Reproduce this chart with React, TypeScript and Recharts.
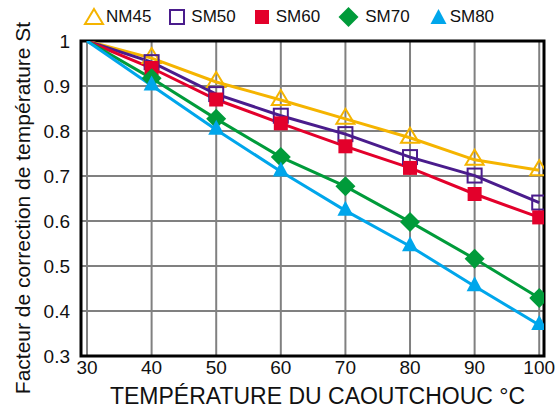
import React from "react"
import {
	LineChart,
	Line,
	XAxis,
	YAxis,
	CartesianGrid,
	ReferenceArea,
} from "recharts"

const temps = [30, 40, 50, 60, 70, 80, 90, 100]
const nm45 = [1, 0.962, 0.909, 0.869, 0.827, 0.785, 0.736, 0.713]
const sm50 = [1, 0.953, 0.882, 0.834, 0.793, 0.742, 0.701, 0.641]
const sm60 = [1, 0.94, 0.87, 0.817, 0.766, 0.718, 0.66, 0.608]
const sm70 = [1, 0.917, 0.827, 0.742, 0.677, 0.598, 0.516, 0.429]
const sm80 = [1, 0.901, 0.803, 0.71, 0.623, 0.544, 0.455, 0.369]

const xTicks = [30, 40, 50, 60, 70, 80, 90, 100]
const yTicks = [0.3, 0.4, 0.5, 0.6, 0.7, 0.8, 0.9, 1]

const FONT = "'Liberation Sans', Arial, sans-serif"

const data = temps.map((t, i) => ({
	temp: t,
	NM45: nm45[i],
	SM50: sm50[i],
	SM60: sm60[i],
	SM70: sm70[i],
	SM80: sm80[i],
}))

type Kind = "triOpen" | "squareOpen" | "square" | "diamond" | "tri"

const series: { key: string; color: string; kind: Kind }[] = [
	{ key: "NM45", color: "#F5B400", kind: "triOpen" },
	{ key: "SM50", color: "#4A1C8C", kind: "squareOpen" },
	{ key: "SM60", color: "#E3002B", kind: "square" },
	{ key: "SM70", color: "#009B3A", kind: "diamond" },
	{ key: "SM80", color: "#00A6EB", kind: "tri" },
]

const Marker = ({ kind, color, cx, cy }: { kind: Kind; color: string; cx: number; cy: number }) => {
	switch (kind) {
		case "triOpen":
			return (
				<path
					d={`M${cx},${cy - 10} L${cx + 9},${cy + 5} L${cx - 9},${cy + 5} Z`}
					fill="none"
					stroke={color}
					strokeWidth={2}
				/>
			)
		case "tri":
			return (
				<path
					d={`M${cx},${cy - 10} L${cx + 8},${cy + 5} L${cx - 8},${cy + 5} Z`}
					fill={color}
				/>
			)
		case "squareOpen":
			return (
				<rect x={cx - 7} y={cy - 7} width={14} height={14} fill="none" stroke={color} strokeWidth={2} />
			)
		case "square":
			return <rect x={cx - 7} y={cy - 7} width={14} height={14} fill={color} />
		case "diamond":
			return (
				<path
					d={`M${cx},${cy - 10} L${cx + 10},${cy} L${cx},${cy + 10} L${cx - 10},${cy} Z`}
					fill={color}
				/>
			)
	}
}

const makeDot = (kind: Kind, color: string) => (props: any) => {
	const { cx, cy, payload, index } = props
	if (payload.temp === 30 || cx == null) return <g key={index} />
	return <Marker key={index} kind={kind} color={color} cx={cx} cy={cy} />
}

const LegendIcon = ({ kind, color }: { kind: Kind; color: string }) => {
	const w = kind === "triOpen" ? 24 : kind === "diamond" ? 23 : kind === "tri" ? 23 : 18
	return (
		<svg width={w} height={24} style={{ display: "block" }}>
			<Marker kind={kind} color={color} cx={w / 2} cy={kind === "triOpen" || kind === "tri" ? 14 : 12} />
		</svg>
	)
}

export default function App() {
	return (
		<div style={{ position: "absolute", left: 0, top: 0, width: 558, height: 411, background: "#fff", fontFamily: FONT }}>
			<div
				style={{
					position: "absolute",
					left: 82,
					top: 5,
					display: "flex",
					alignItems: "center",
					gap: 17,
					fontSize: 17,
					color: "#111",
				}}
			>
				{series.map((s) => (
					<div key={s.key} style={{ display: "flex", alignItems: "center", gap: s.kind === "triOpen" || s.kind === "tri" ? 0 : 5 }}>
						<LegendIcon kind={s.kind} color={s.color} />
						<span>{s.key}</span>
					</div>
				))}
			</div>
			<LineChart
				width={558}
				height={411}
				data={data}
				margin={{ top: 41, right: 14, bottom: 25, left: 21 }}
				style={{ fontFamily: FONT }}
			>
				<CartesianGrid stroke="#808080" strokeWidth={2} />
				<XAxis
					type="number"
					dataKey="temp"
					domain={[29.07, 100.74]}
					ticks={xTicks}
					allowDataOverflow
					axisLine={false}
					tickLine={false}
					tickSize={0}
					tickMargin={5}
					height={30}
					tick={{ fontSize: 19, fill: "#111" }}
					label={(p: any) => {
						const vb = p.viewBox
						return (
							<text
								x={vb.x + vb.width / 2 + 5}
								y={404}
								textAnchor="middle"
								fontSize={23}
								fill="#111"
							>
								TEMPÉRATURE DU CAOUTCHOUC °C
							</text>
						)
					}}
				/>
				<YAxis
					type="number"
					domain={[0.3, 1]}
					ticks={yTicks}
					allowDataOverflow
					axisLine={false}
					tickLine={false}
					tickSize={0}
					tickMargin={11}
					width={60}
					tick={{ fontSize: 19, fill: "#111" }}
					tickFormatter={(v: number) => String(v)}
					label={() => (
						<text
							x={30}
							y={208}
							transform="rotate(-90 30 208)"
							textAnchor="middle"
							fontSize={21}
							fill="#111"
						>
							Facteur de correction de température St
						</text>
					)}
				/>
				{series.map((s) => (
					<Line
						key={s.key}
						type="linear"
						dataKey={s.key}
						stroke={s.color}
						strokeWidth={3}
						dot={makeDot(s.kind, s.color)}
						activeDot={false}
						isAnimationActive={false}
					/>
				))}
				<ReferenceArea
					x1={29.07}
					x2={100.74}
					y1={0.3}
					y2={1}
					fill="none"
					stroke="#000"
					strokeWidth={3}
					ifOverflow="visible"
				/>
			</LineChart>
		</div>
	)
}
